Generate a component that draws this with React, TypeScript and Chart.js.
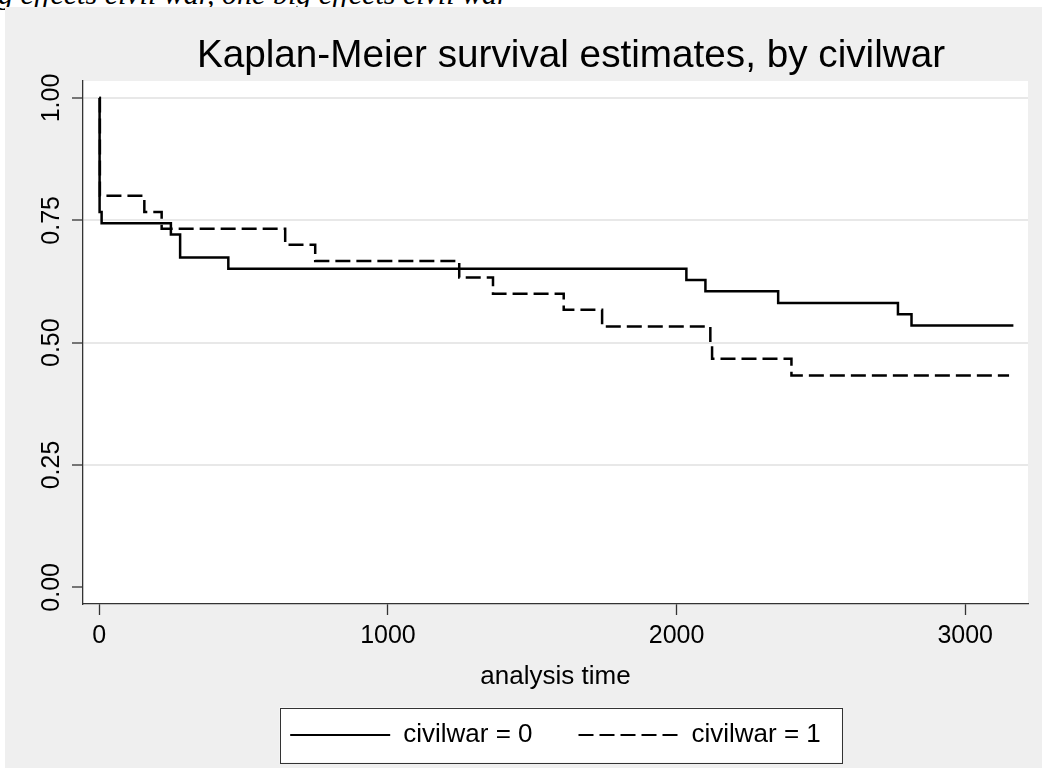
import React, { useEffect, useRef } from 'react';
import { Chart, registerables } from 'chart.js';

Chart.register(...registerables);

// ---- data ----
const chartTitle = 'Kaplan-Meier survival estimates, by civilwar';
const xAxisTitle = 'analysis time';
const seriesLabels = ['civilwar = 0', 'civilwar = 1'];
const xTicks = [0, 1000, 2000, 3000];
const yTicks = [0, 0.25, 0.5, 0.75, 1.0];
const noteText = 'g effects civil war, one big effects civil war';

// civilwar = 0 (solid)
const times0 = [0, 1, 8, 248, 280, 447, 2034, 2100, 2352, 2767, 2814, 3167];
const surv0 = [1.0, 0.767, 0.744, 0.721, 0.674, 0.651, 0.628, 0.605, 0.581, 0.558, 0.535, 0.535];

// civilwar = 1 (dashed)
const times1 = [0, 2, 156, 216, 644, 748, 1247, 1364, 1609, 1742, 2117, 2123, 2398, 3152];
const surv1 = [1.0, 0.8, 0.767, 0.733, 0.7, 0.667, 0.633, 0.6, 0.567, 0.533, 0.5, 0.467, 0.433, 0.433];

const FONT = '"Liberation Sans", Arial, Helvetica, sans-serif';
const DASH = [15, 6];

export default function App() {
  const ref = useRef<HTMLCanvasElement>(null);

  useEffect(() => {
    const canvas = ref.current;
    if (!canvas) return;

    const bgPlugin = {
      id: 'stataBg',
      beforeDraw(chart: any) {
        const { ctx, chartArea: a } = chart;
        ctx.save();
        ctx.fillStyle = '#ffffff';
        ctx.fillRect(a.left, a.top, a.right - a.left, a.bottom - a.top);
        const hb = chart.legend && chart.legend.legendHitBoxes;
        if (hb && hb.length) {
          const first = hb[0];
          const last = hb[hb.length - 1];
          const left = first.left - 10.5;
          const right = last.left + last.width + 21;
          const cy = first.top + first.height / 2;
          const top = cy - 27.5;
          ctx.fillStyle = '#ffffff';
          ctx.fillRect(left, top, right - left, 55);
          ctx.strokeStyle = '#333333';
          ctx.lineWidth = 1;
          ctx.strokeRect(Math.round(left) + 0.5, Math.round(top) + 0.5, Math.round(right - left), 55);
        }
        ctx.restore();
      },
    };

    const chart = new Chart(canvas, {
      type: 'line',
      data: {
        datasets: [
          {
            label: seriesLabels[0],
            data: times0.map((t, i) => ({ x: t, y: surv0[i] })),
            borderColor: '#000000',
            backgroundColor: '#000000',
            borderWidth: 2.5,
            pointRadius: 0,
            stepped: 'before',
            fill: false,
          },
          {
            label: seriesLabels[1],
            data: times1.map((t, i) => ({ x: t, y: surv1[i] })),
            borderColor: '#000000',
            backgroundColor: '#000000',
            borderWidth: 2.5,
            borderDash: DASH,
            pointRadius: 0,
            stepped: 'before',
            fill: false,
          },
        ],
      },
      plugins: [bgPlugin],
      options: {
        animation: false,
        responsive: false,
        events: [],
        layout: { padding: { left: 0, right: 0, top: 0, bottom: 10 } },
        scales: {
          x: {
            type: 'linear',
            position: 'bottom',
            min: -56.5,
            max: 3217.6,
            afterBuildTicks: (s: any) => {
              s.ticks = xTicks.map((v) => ({ value: v }));
            },
            afterFit: (s: any) => {
              s.height = 72;
            },
            ticks: {
              autoSkip: false,
              maxRotation: 0,
              minRotation: 0,
              padding: 9,
              color: '#000000',
              font: { family: FONT, size: 25, lineHeight: 1 },
              callback: (v: any) => String(v),
            },
            grid: {
              drawOnChartArea: false,
              drawTicks: true,
              tickLength: 11,
              tickColor: '#333333',
              tickWidth: 1.3,
            },
            border: { display: true, color: '#333333', width: 1.3 },
            title: {
              display: true,
              text: xAxisTitle,
              color: '#000000',
              font: { family: FONT, size: 26, lineHeight: 1 },
              padding: { top: 0, bottom: -14 },
            },
          },
          y: {
            type: 'linear',
            position: 'left',
            min: -0.0341,
            max: 1.0347,
            afterBuildTicks: (s: any) => {
              s.ticks = yTicks.map((v) => ({ value: v }));
            },
            afterFit: (s: any) => {
              s.width = 78;
            },
            ticks: {
              autoSkip: false,
              minRotation: 90,
              maxRotation: 90,
              crossAlign: 'center',
              padding: -4,
              color: '#000000',
              font: { family: FONT, size: 25, lineHeight: 1 },
              callback: (v: any) => Number(v).toFixed(2),
            },
            grid: {
              drawOnChartArea: true,
              drawTicks: true,
              tickLength: 11,
              tickColor: '#333333',
              tickWidth: 1.3,
              lineWidth: 2,
              color: (c: any) => (c.tick && c.tick.value === 0 ? 'rgba(0,0,0,0)' : '#e8e8e8'),
            },
            border: { display: true, color: '#333333', width: 1.3 },
          },
          yRight: {
            type: 'linear',
            position: 'right',
            display: true,
            afterFit: (s: any) => {
              s.width = 109;
            },
            ticks: { display: false },
            grid: { display: false, drawTicks: false },
            border: { display: false },
          },
        },
        plugins: {
          title: {
            display: true,
            text: chartTitle,
            color: '#000000',
            font: { family: FONT, size: 38.7, weight: 'normal', lineHeight: 1 },
            padding: { top: 30, bottom: 5.3 },
          },
          legend: {
            display: true,
            position: 'bottom',
            fullSize: false,
            labels: {
              color: '#000000',
              font: { family: FONT, size: 26 },
              usePointStyle: true,
              pointStyle: 'line',
              pointStyleWidth: 100,
              boxHeight: 26,
              padding: 46,
              generateLabels: (ch: any) =>
                ch.data.datasets.map((ds: any, i: number) => ({
                  text: ds.label,
                  fillStyle: 'rgba(0,0,0,0)',
                  strokeStyle: '#000000',
                  fontColor: '#000000',
                  lineWidth: 2.2,
                  lineDash: ds.borderDash || [],
                  lineCap: 'butt',
                  pointStyle: 'line',
                  hidden: false,
                  datasetIndex: i,
                })),
            },
          },
          tooltip: { enabled: false },
        },
      },
    } as any);

    return () => chart.destroy();
  }, []);

  return (
    <div
      style={{
        position: 'fixed',
        left: 0,
        top: 0,
        width: 1042,
        height: 768,
        overflow: 'hidden',
        background: '#ffffff',
      }}
    >
      <div
        style={{
          position: 'absolute',
          left: -2,
          top: -21,
          font: 'italic 30px "Liberation Serif", "Times New Roman", serif',
          lineHeight: '30px',
          whiteSpace: 'nowrap',
          color: '#000',
        }}
      >
        {noteText}
      </div>
      <canvas
        ref={ref}
        width={1132}
        height={761}
        style={{
          position: 'absolute',
          left: 5,
          top: 7,
          width: 1132,
          height: 761,
          background: '#efefef',
        }}
      />
    </div>
  );
}
